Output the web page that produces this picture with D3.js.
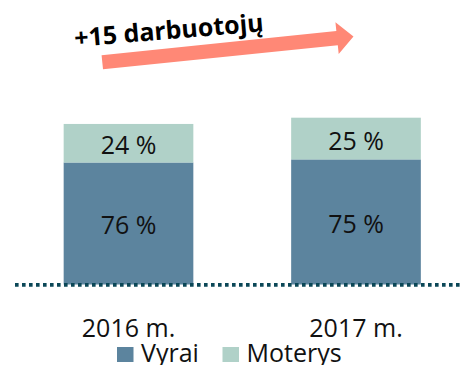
<!DOCTYPE html>
<html>
<head>
<meta charset="utf-8">
<script src="https://cdn.jsdelivr.net/npm/d3@7"></script>
<style>
  html, body { margin: 0; padding: 0; background: #fff; }
  svg { display: block; font-family: "Open Sans", "Noto Sans", sans-serif; }
</style>
</head>
<body>
<svg id="chart" width="462" height="365"></svg>
<script>
// Employees by year and gender share
const years = ["2016 m.", "2017 m."];
const totals = [385, 400];          // headcount per year
const vyraiPct = [76, 75];          // men, %
const moterysPct = [24, 25];        // women, %
const seriesNames = ["Vyrai", "Moterys"];
const seriesColors = ["#5c849e", "#b0d1c8"];

const svg = d3.select("#chart");
const W = 462, H = 365;

const rows = years.map((y, i) => ({
  year: y,
  total: totals[i],
  Vyrai: totals[i] * vyraiPct[i] / 100,
  Moterys: totals[i] * moterysPct[i] / 100,
  pct: { Vyrai: vyraiPct[i], Moterys: moterysPct[i] }
}));

const x = d3.scaleBand()
  .domain(years)
  .range([14.75, 469.75])
  .paddingInner(0.43)
  .paddingOuter(0.215);

const baseY = 284.5;
const y = d3.scaleLinear()
  .domain([0, d3.max(totals)])
  .range([baseY, 117.7]);

const stack = d3.stack().keys(seriesNames);
const layers = stack(rows);

const color = d3.scaleOrdinal().domain(seriesNames).range(seriesColors);

// stacked bars
const g = svg.append("g");
layers.forEach(layer => {
  const key = layer.key;
  g.selectAll(null)
    .data(layer)
    .join("rect")
    .attr("x", d => x(d.data.year))
    .attr("width", x.bandwidth())
    .attr("y", d => y(d[1]))
    .attr("height", d => y(d[0]) - y(d[1]))
    .attr("fill", color(key));

  g.selectAll(null)
    .data(layer)
    .join("text")
    .attr("x", d => x(d.data.year) + x.bandwidth() / 2)
    .attr("y", d => (y(d[0]) + y(d[1])) / 2 + 11)
    .attr("text-anchor", "middle")
    .attr("font-size", 25)
    .attr("fill", "#111")
    .text(d => d.data.pct[key] + " %");
});

// dotted baseline
svg.append("line")
  .attr("x1", 15).attr("x2", W)
  .attr("y1", baseY + 0.3).attr("y2", baseY + 0.3)
  .attr("stroke", "#0b4757")
  .attr("stroke-width", 3.8)
  .attr("stroke-dasharray", "3.6 3.4");

// category axis
const axis = svg.append("g")
  .attr("transform", `translate(0,${baseY})`)
  .call(d3.axisBottom(x).tickSize(0));
axis.select(".domain").remove();
axis.selectAll("text")
  .attr("y", 52.2)
  .attr("dy", 0)
  .attr("font-size", 25)
  .attr("font-family", "Open Sans, Noto Sans, sans-serif")
  .attr("fill", "#111");

// legend
const legendItems = [
  { name: "Vyrai", sx: 117, tx: 141 },
  { name: "Moterys", sx: 222.5, tx: 246.5 }
];
const legend = svg.append("g");
legend.selectAll("rect")
  .data(legendItems)
  .join("rect")
  .attr("x", d => d.sx)
  .attr("y", 347)
  .attr("width", 16.5)
  .attr("height", 15)
  .attr("fill", d => color(d.name));
legend.selectAll("text")
  .data(legendItems)
  .join("text")
  .attr("x", d => d.tx)
  .attr("y", 361.7)
  .attr("font-size", 25)
  .attr("fill", "#111")
  .text(d => d.name);

// growth arrow
const ang = -5.86;
const arrow = svg.append("g")
  .attr("transform", `translate(102.3,62.2) rotate(${ang})`);
const shaftLen = 236, half = 7.1, headHalf = 16, headLen = 16.5;
arrow.append("path")
  .attr("d", `M0,${-half} L${shaftLen},${-half} L${shaftLen},${-headHalf} L${shaftLen + headLen},0 L${shaftLen},${headHalf} L${shaftLen},${half} L0,${half} Z`)
  .attr("fill", "#ff8876");

const diff = totals[1] - totals[0];
svg.append("text")
  .attr("transform", "translate(75,47) rotate(-4.8)")
  .attr("font-size", 25)
  .attr("font-weight", "bold")
  .attr("fill", "#000")
  .text(`+${diff} darbuotojų`);
</script>
</body>
</html>
